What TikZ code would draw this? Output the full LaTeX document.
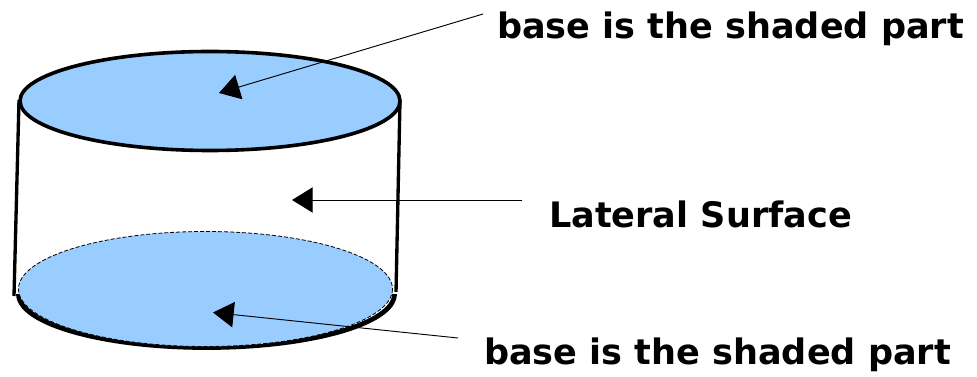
\documentclass[tikz,border=0pt]{standalone}
\usepackage{fontspec}
\setmainfont{DejaVu Sans}
\usetikzlibrary{arrows.meta}
\tikzset{
 lbl/.style={inner sep=0pt,font=\fontsize{26.3pt}{30pt}\selectfont\bfseries,text=black},
 ptr/.style={-{Triangle[length=15.5pt,width=19pt]},black,line width=0.7pt},
 wall/.style={line width=2.5pt,black}
}
\definecolor{basefill}{HTML}{99CCFF}
\begin{document}
\begin{tikzpicture}[x=1pt,y=-1pt,xscale=0.75,yscale=0.75]
\useasboundingbox (0,0) rectangle (977,377);
\coordinate (tl) at (19,100);
\coordinate (tr) at (400,100);
\coordinate (bl) at (14,296);
\coordinate (br) at (396,292);
\draw[wall] (tl) -- (bl);
\draw[wall] (tr) -- (br);
\draw[line width=3.6pt] (18.5,294) arc[start angle=180,end angle=0,x radius=188,y radius=53.5];
\path[fill=basefill] (205.5,289) ellipse [x radius=187,y radius=57.5];
\draw[black,dash pattern=on 3pt off 1.5pt,line width=0.6pt] (205.5,289) ellipse [x radius=187,y radius=57.5];
\draw[fill=basefill,line width=2.7pt] (210,101) ellipse [x radius=190,y radius=49.5];
\node[lbl,anchor=center] (t1) at (730.5,29) {base is the shaded part};
\node[lbl,anchor=center] (t2) at (700.5,214) {Lateral Surface};
\node[lbl,anchor=center] (t3) at (717.5,355) {base is the shaded part};
\coordinate (a1) at (483,14);
\coordinate (h1) at (219,93);
\coordinate (a2) at (522,200);
\coordinate (h2) at (292,200);
\coordinate (a3) at (458,338);
\coordinate (h3) at (213,312.5);
\draw[ptr] (a1) -- (h1);
\draw[ptr] (a2) -- (h2);
\draw[ptr] (a3) -- (h3);
\end{tikzpicture}
\end{document}
